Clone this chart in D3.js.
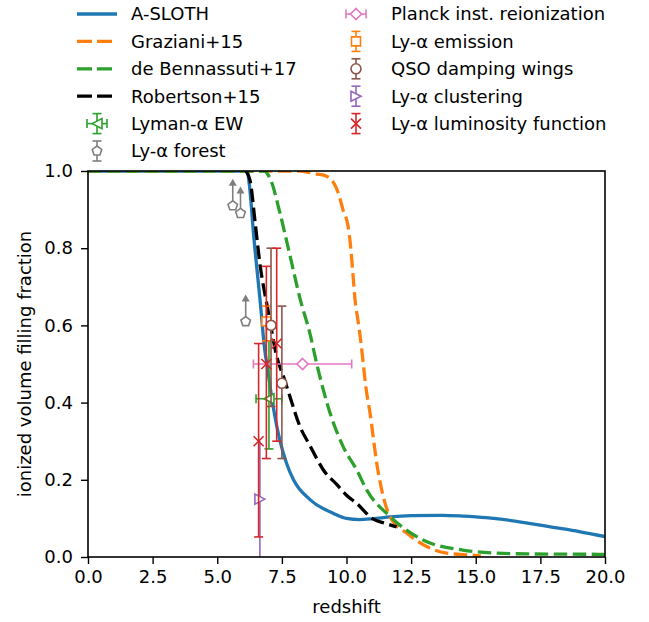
<!DOCTYPE html>
<html lang="en">
<head>
<meta charset="utf-8">
<title>Ionized fraction vs redshift</title>
<script src="https://d3js.org/d3.v7.min.js"></script>
<style>
  body { margin: 0; background: #fff; }
  text { font-family: 'DejaVu Sans', sans-serif; fill: #000; }
</style>
</head>
<body>
<div id="chart"></div>
<script>
// ---- model curves (redshift, ionized fraction) ----
var slothZ = [0, 6.15, 6.25, 6.4, 6.65, 6.85, 6.92, 7.15, 7.43, 7.68, 7.95, 8.6, 9.5, 10.0, 10.5, 11.0, 11.7, 12.5, 13.7, 14.5, 15.4, 16.2, 17.0, 18.0, 19.0, 20.0];
var slothX = [1, 1, 0.96, 0.84, 0.67, 0.53, 0.50, 0.395, 0.30, 0.243, 0.20, 0.148, 0.113, 0.10, 0.097, 0.099, 0.104, 0.107, 0.108, 0.106, 0.102, 0.096, 0.088, 0.077, 0.066, 0.053];

var grazZ = [0, 8.2, 8.85, 9.17, 9.48, 9.7, 9.86, 10.06, 10.17, 10.25, 10.33, 10.45, 10.55, 10.65, 10.75, 10.91, 11.17, 11.42, 11.68, 12.33, 13.1, 13.88, 14.78, 15.2];
var grazX = [1, 1, 0.992, 0.988, 0.972, 0.94, 0.90, 0.857, 0.797, 0.732, 0.667, 0.61, 0.56, 0.50, 0.44, 0.373, 0.243, 0.157, 0.105, 0.062, 0.027, 0.01, 0.005, 0.003];

var bennZ = [0, 6.8, 7.05, 7.43, 7.8, 8.2, 8.6, 8.85, 9.36, 9.87, 10.39, 10.78, 11.7, 12.96, 14.5, 15.8, 17.0, 20.0];
var bennX = [1, 1, 0.98, 0.89, 0.785, 0.67, 0.575, 0.50, 0.374, 0.286, 0.226, 0.174, 0.104, 0.044, 0.018, 0.01, 0.008, 0.007];

var robZ = [6.1, 6.27, 6.46, 6.65, 6.97, 7.3, 7.6, 7.81, 8.2, 8.6, 8.85, 9.1, 9.62, 10.0, 10.39, 11.04, 11.5, 11.94];
var robX = [1, 0.975, 0.87, 0.76, 0.637, 0.52, 0.46, 0.416, 0.338, 0.287, 0.255, 0.226, 0.188, 0.16, 0.139, 0.098, 0.087, 0.078];

// ---- observations ----
var ewZ = [7.0], ewX = [0.41], ewLo = [0.28], ewHi = [0.56], ewZLo = [6.5], ewZHi = [7.5];
var forestZ = [5.6, 5.9, 6.1], forestX = [0.91, 0.89, 0.61], forestLim = [0.07, 0.07, 0.07];
var planckZ = [8.3], planckX = [0.50], planckZLo = [6.4], planckZHi = [10.2];
var emisZ = [6.9], emisX = [0.61], emisLo = [0.56], emisHi = [0.65];
var qsoZ = [7.08, 7.5], qsoX = [0.60, 0.45], qsoLo = [0.39, 0.255], qsoHi = [0.80, 0.65];
var clusZ = [6.65], clusX = [0.15], clusLo = [0.0], clusHi = [0.30];
var lfZ = [6.6, 6.9, 7.3], lfX = [0.30, 0.50, 0.553], lfLo = [0.052, 0.255, 0.30], lfHi = [0.553, 0.753, 0.80];

var xTicks = [0, 2.5, 5, 7.5, 10, 12.5, 15, 17.5, 20];
var yTicks = [0, 0.2, 0.4, 0.6, 0.8, 1.0];

var width = 649, height = 622;
var plotL = 88, plotR = 605, plotT = 171, plotB = 557;

var svg = d3.select("#chart").append("svg")
    .attr("width", width)
    .attr("height", height);

var x = d3.scaleLinear().domain([0, 20]).range([plotL, plotR]);
var y = d3.scaleLinear().domain([0, 1]).range([plotB, plotT]);

svg.append("clipPath").attr("id", "plotclip")
  .append("rect")
    .attr("x", plotL).attr("y", plotT)
    .attr("width", plotR - plotL).attr("height", plotB - plotT);

var plot = svg.append("g").attr("clip-path", "url(#plotclip)");

var blue = "#1f77b4", orange = "#ff7f0e", green = "#2ca02c", red = "#d62728",
    purple = "#9467bd", brown = "#8c564b", pink = "#e377c2", gray = "#7f7f7f";
var dash = "13.5,5.5";

var models = [
  {z: slothZ, v: slothX, color: blue, dash: null, label: "A-SLOTH"},
  {z: grazZ, v: grazX, color: orange, dash: dash, label: "Graziani+15"},
  {z: bennZ, v: bennX, color: green, dash: dash, label: "de Bennassuti+17"},
  {z: robZ, v: robX, color: "#000", dash: dash, label: "Robertson+15"}
];

var line = d3.line()
    .x(function(d){ return x(d[0]); })
    .y(function(d){ return y(d[1]); })
    .curve(d3.curveMonotoneX);

models.forEach(function(m){
  plot.append("path")
    .datum(d3.zip(m.z, m.v))
    .attr("d", line)
    .attr("fill", "none")
    .attr("stroke", m.color)
    .attr("stroke-width", 3.3)
    .attr("stroke-dasharray", m.dash);
});

// marker shapes centred on 0,0
function markerPath(type) {
  var r;
  switch (type) {
    case "circle":
      return d3.symbol().type(d3.symbolCircle).size(Math.PI * 25)();
    case "square":
      r = 4.5;
      return "M" + (-r) + "," + (-r) + "h" + (2*r) + "v" + (2*r) + "h" + (-2*r) + "Z";
    case "diamond":
      r = 5.5;
      return "M0," + (-r) + "L" + r + ",0L0," + r + "L" + (-r) + ",0Z";
    case "pentagon":
      r = 5;
      return "M" + d3.range(5).map(function(k){
        var a = -Math.PI / 2 + k * 2 * Math.PI / 5;
        return [r * Math.cos(a), r * Math.sin(a)];
      }).join("L") + "Z";
    case "tleft":
      r = 5;
      return "M" + (-r) + ",0L" + r + "," + (-r) + "L" + r + "," + r + "Z";
    case "tright":
      r = 5;
      return "M" + r + ",0L" + (-r) + "," + (-r) + "L" + (-r) + "," + r + "Z";
    case "x":
      r = 5;
      return "M" + (-r) + "," + (-r) + "L" + r + "," + r + "M" + (-r) + "," + r + "L" + r + "," + (-r);
  }
}

function drawMarker(g, px, py, type, color) {
  g.append("path")
    .attr("d", markerPath(type))
    .attr("transform", "translate(" + px + "," + py + ")")
    .attr("fill", type === "x" ? "none" : "#fff")
    .attr("stroke", color)
    .attr("stroke-width", 1.6);
}

function vBar(g, px, y0, y1, color, caps) {
  g.append("line").attr("x1", px).attr("x2", px).attr("y1", y0).attr("y2", y1)
    .attr("stroke", color).attr("stroke-width", 1.6);
  if (caps) [y0, y1].forEach(function(yy){
    g.append("line").attr("x1", px - 4.5).attr("x2", px + 4.5).attr("y1", yy).attr("y2", yy)
      .attr("stroke", color).attr("stroke-width", 1.6);
  });
}

function hBar(g, py, x0, x1, color) {
  g.append("line").attr("x1", x0).attr("x2", x1).attr("y1", py).attr("y2", py)
    .attr("stroke", color).attr("stroke-width", 1.6);
  [x0, x1].forEach(function(xx){
    g.append("line").attr("x1", xx).attr("x2", xx).attr("y1", py - 4.5).attr("y2", py + 4.5)
      .attr("stroke", color).attr("stroke-width", 1.6);
  });
}

function upArrow(g, px, y0, y1, color) {
  g.append("line").attr("x1", px).attr("x2", px).attr("y1", y0).attr("y2", y1 + 6)
    .attr("stroke", color).attr("stroke-width", 1.6);
  g.append("path")
    .attr("d", "M" + (px - 4) + "," + (y1 + 7) + "L" + px + "," + y1 + "L" + (px + 4) + "," + (y1 + 7) + "Z")
    .attr("fill", color);
}

var obs = plot.append("g");

// Lyman-alpha EW
ewZ.forEach(function(z, i){
  vBar(obs, x(z), y(ewLo[i]), y(ewHi[i]), green, true);
  hBar(obs, y(ewX[i]), x(ewZLo[i]), x(ewZHi[i]), green);
  drawMarker(obs, x(z), y(ewX[i]), "tleft", green);
});
// Ly-alpha forest lower limits
forestZ.forEach(function(z, i){
  upArrow(obs, x(z), y(forestX[i]), y(forestX[i] + forestLim[i]), gray);
  drawMarker(obs, x(z), y(forestX[i]), "pentagon", gray);
});
// Planck
planckZ.forEach(function(z, i){
  hBar(obs, y(planckX[i]), x(planckZLo[i]), x(planckZHi[i]), pink);
  drawMarker(obs, x(z), y(planckX[i]), "diamond", pink);
});
// Ly-alpha emission
emisZ.forEach(function(z, i){
  vBar(obs, x(z), y(emisLo[i]), y(emisHi[i]), orange, true);
  drawMarker(obs, x(z), y(emisX[i]), "square", orange);
});
// QSO damping wings
qsoZ.forEach(function(z, i){
  vBar(obs, x(z), y(qsoLo[i]), y(qsoHi[i]), brown, true);
  drawMarker(obs, x(z), y(qsoX[i]), "circle", brown);
});
// Ly-alpha clustering
clusZ.forEach(function(z, i){
  vBar(obs, x(z), y(clusLo[i]) + 10, y(clusHi[i]), purple, false);
  drawMarker(obs, x(z), y(clusX[i]), "tright", purple);
});
// Ly-alpha luminosity function
lfZ.forEach(function(z, i){
  vBar(obs, x(z), y(lfLo[i]), y(lfHi[i]), red, true);
  drawMarker(obs, x(z), y(lfX[i]), "x", red);
});

// ---- axes ----
svg.append("rect")
  .attr("x", plotL).attr("y", plotT)
  .attr("width", plotR - plotL).attr("height", plotB - plotT)
  .attr("fill", "none").attr("stroke", "#000").attr("stroke-width", 1.6);

var xAxis = svg.append("g")
  .attr("transform", "translate(0," + plotB + ")")
  .call(d3.axisBottom(x).tickValues(xTicks).tickFormat(d3.format(".1f")).tickSize(7).tickPadding(6));
var yAxis = svg.append("g")
  .attr("transform", "translate(" + plotL + ",0)")
  .call(d3.axisLeft(y).tickValues(yTicks).tickFormat(d3.format(".1f")).tickSize(7).tickPadding(8));
[xAxis, yAxis].forEach(function(a){
  a.select(".domain").remove();
  a.selectAll(".tick line").attr("stroke", "#000").attr("stroke-width", 1.4);
  a.selectAll(".tick text").attr("font-size", 18).attr("font-family", "'DejaVu Sans', sans-serif").attr("fill", "#000");
});

svg.append("text")
  .attr("x", (plotL + plotR) / 2).attr("y", 613)
  .attr("text-anchor", "middle").attr("font-size", 18)
  .text("redshift");

svg.append("text")
  .attr("transform", "translate(31," + ((plotT + plotB) / 2) + ") rotate(-90)")
  .attr("text-anchor", "middle").attr("font-size", 18)
  .text("ionized volume filling fraction");

// ---- legend ----
var rowH = 27.4, row0 = 14;
var leg = svg.append("g");

models.forEach(function(m, i){
  var yy = row0 + i * rowH;
  leg.append("line").attr("x1", 77).attr("x2", 117).attr("y1", yy).attr("y2", yy)
    .attr("stroke", m.color).attr("stroke-width", 3.3).attr("stroke-dasharray", m.dash ? "15,5" : null);
});

var obsLegend = [
  {label: "Lyman-\u03b1 EW", color: green, type: "tleft", xerr: true, col: 0, row: 4},
  {label: "Ly-\u03b1 forest", color: gray, type: "pentagon", col: 0, row: 5},
  {label: "Planck inst. reionization", color: pink, type: "diamond", xerr: true, noy: true, col: 1, row: 0},
  {label: "Ly-\u03b1 emission", color: orange, type: "square", col: 1, row: 1},
  {label: "QSO damping wings", color: brown, type: "circle", col: 1, row: 2},
  {label: "Ly-\u03b1 clustering", color: purple, type: "tright", col: 1, row: 3},
  {label: "Ly-\u03b1 luminosity function", color: red, type: "x", col: 1, row: 4}
];

var colHandle = [97, 356], colText = [131, 391];

obsLegend.forEach(function(o){
  var cx = colHandle[o.col], cy = row0 + o.row * rowH;
  if (!o.noy) vBar(leg, cx, cy - 10, cy + 10, o.color, true);
  if (o.xerr) hBar(leg, cy, cx - 10, cx + 10, o.color);
  drawMarker(leg, cx, cy, o.type, o.color);
});

var legLabels = models.map(function(m, i){ return {label: m.label, col: 0, row: i}; })
  .concat(obsLegend);

leg.selectAll("text.lab")
  .data(legLabels)
  .enter().append("text")
    .attr("class", "lab")
    .attr("x", function(d){ return colText[d.col]; })
    .attr("y", function(d){ return row0 + d.row * rowH; })
    .attr("dy", "0.36em")
    .attr("font-size", 18)
    .text(function(d){ return d.label; });
</script>
</body>
</html>
